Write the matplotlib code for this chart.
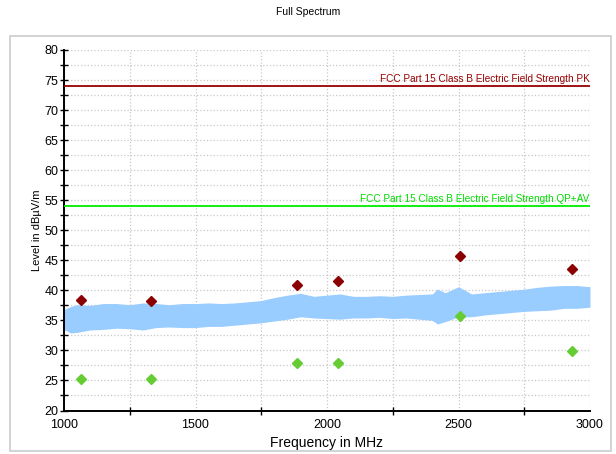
import matplotlib.pyplot as plt
from matplotlib.patches import FancyBboxPatch
import numpy as np

plt.rcParams['font.family'] = ['Liberation Sans', 'DejaVu Sans']

# spectrum envelope (MHz, dBuV/m)
freq = [1000, 1025, 1050, 1100, 1150, 1200, 1250, 1300, 1350, 1400, 1450,
        1500, 1550, 1600, 1650, 1700, 1750, 1800, 1850, 1900, 1950, 2000,
        2050, 2100, 2150, 2200, 2250, 2300, 2350, 2400, 2420, 2450, 2500,
        2550, 2600, 2650, 2700, 2750, 2800, 2850, 2900, 2950, 3000]
upper = [36.8, 37.3, 37.6, 37.5, 37.8, 37.8, 37.6, 37.9, 37.8, 37.6, 37.8,
         37.8, 37.9, 37.8, 37.9, 38.1, 38.3, 38.8, 39.2, 39.5, 39.0, 39.2,
         39.4, 39.0, 39.0, 39.1, 39.0, 39.2, 39.3, 39.4, 40.2, 39.6, 40.6,
         39.4, 39.6, 39.8, 40.0, 40.2, 40.5, 40.7, 40.8, 40.8, 40.6]
lower = [33.5, 32.9, 33.0, 33.4, 33.5, 33.7, 33.6, 33.4, 33.8, 33.9, 33.8,
         33.8, 34.0, 34.0, 34.2, 34.4, 34.6, 34.9, 35.2, 35.6, 35.4, 35.3,
         35.2, 35.4, 35.4, 35.5, 35.3, 35.4, 35.2, 35.0, 34.4, 34.8, 35.6,
         35.6, 35.9, 36.1, 36.3, 36.5, 36.6, 36.7, 37.0, 37.0, 37.2]

pk_freq = [1065, 1330, 1885, 2040, 2505, 2930]
pk_level = [38.4, 38.2, 40.9, 41.6, 45.7, 43.5]
av_freq = [1065, 1330, 1885, 2040, 2505, 2930]
av_level = [25.2, 25.2, 27.9, 27.9, 35.8, 29.9]

limit_pk = 74
limit_av = 54

fig = plt.figure(figsize=(6.16, 4.54), dpi=100)
fig.patches.append(FancyBboxPatch((10/616, 1-451/454), 601/616, 415/454,
                                  boxstyle='square,pad=0', transform=fig.transFigure,
                                  fill=False, edgecolor='#cccccc', linewidth=1.2))
ax = fig.add_axes([64/616, 1-410.5/454, 526/616, 360.5/454])

ax.fill_between(freq, lower, upper, color='#99ccff', linewidth=0, zorder=2)
ax.plot(pk_freq, pk_level, 'D', color='#8b0000', markersize=5, zorder=4)
ax.plot(av_freq, av_level, 'D', color='#66cc33', markersize=5, zorder=4)

ax.axhline(limit_pk, color='#990000', linewidth=1.3, zorder=3)
ax.axhline(limit_av, color='#00ee00', linewidth=1.3, zorder=3)
ax.text(2998, limit_pk + 0.3, 'FCC Part 15 Class B Electric Field Strength PK',
        color='#990000', ha='right', va='bottom', fontsize=7.2)
ax.text(2998, limit_av + 0.3, 'FCC Part 15 Class B Electric Field Strength QP+AV',
        color='#00dd00', ha='right', va='bottom', fontsize=7.2)

ax.set_xlim(1000, 3000)
ax.set_ylim(20, 80)
ax.set_xticks(np.arange(1000, 3001, 500))
ax.set_xticks(np.arange(1250, 3000, 500), minor=True)
ax.set_yticks(np.arange(20, 81, 5))
ax.set_yticks(np.arange(22.5, 80, 5), minor=True)
ax.tick_params(axis='x', which='major', length=0, pad=6, labelsize=9)
ax.tick_params(axis='x', which='minor', direction='inout', length=6, width=1)
ax.tick_params(axis='y', which='both', direction='inout', length=6, width=1,
               labelsize=9, pad=1)
ax.grid(True, which='both', color='#c8c8c8', linestyle=':', linewidth=0.9)
ax.set_axisbelow(True)

for s in ['top', 'right']:
    ax.spines[s].set_visible(False)
for s in ['left', 'bottom']:
    ax.spines[s].set_linewidth(1.4)

ax.set_xlabel('Frequency in MHz', fontsize=10, labelpad=4)
ax.set_ylabel('Level in dBµV/m', fontsize=8, labelpad=2)
fig.text(0.5, 1-12/454, 'Full Spectrum', ha='center', va='center', fontsize=7.5)

fig.savefig('out.png', dpi=100)
